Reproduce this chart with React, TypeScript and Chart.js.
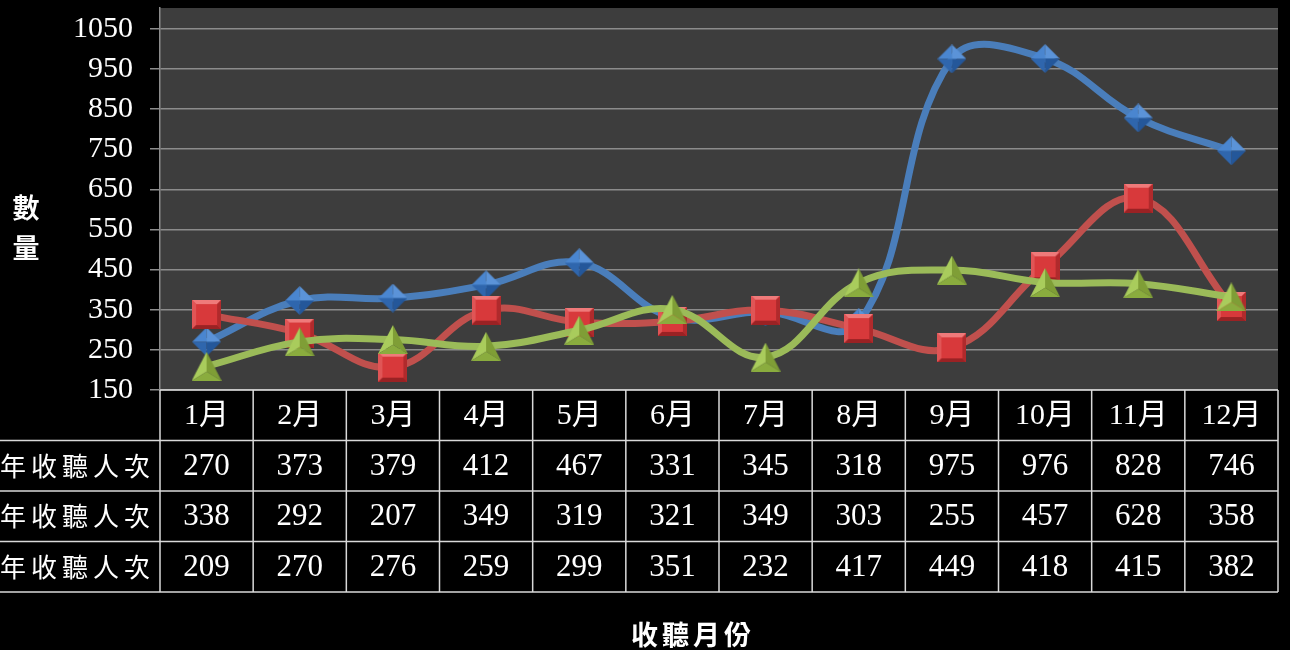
import React, { useEffect, useRef } from "react";
import { Chart, registerables } from "chart.js";
Chart.register(...registerables);

const months = ["1月", "2月", "3月", "4月", "5月", "6月", "7月", "8月", "9月", "10月", "11月", "12月"];
const rowLabels = ["年收聽人次", "年收聽人次", "年收聽人次"];
const seriesBlue = [270, 373, 379, 412, 467, 331, 345, 318, 975, 976, 828, 746];
const seriesRed = [338, 292, 207, 349, 319, 321, 349, 303, 255, 457, 628, 358];
const seriesGreen = [209, 270, 276, 259, 299, 351, 232, 417, 449, 418, 415, 382];
const yTickValues = [150, 250, 350, 450, 550, 650, 750, 850, 950, 1050];
const yTitle = "數量";
const xTitle = "收聽月份";

function poly(ctx: CanvasRenderingContext2D, pts: number[][], color: string) {
  ctx.beginPath();
  ctx.moveTo(pts[0][0], pts[0][1]);
  for (let i = 1; i < pts.length; i++) ctx.lineTo(pts[i][0], pts[i][1]);
  ctx.closePath();
  ctx.fillStyle = color;
  ctx.fill();
}

function makeSquare(s: number, c: string[]) {
  const cv = document.createElement("canvas");
  cv.width = s; cv.height = s;
  const ctx = cv.getContext("2d")!;
  const b = 4;
  poly(ctx, [[0, 0], [s, 0], [s, s], [0, s]], c[0]);
  poly(ctx, [[0, 0], [s, 0], [s - b, b], [b, b]], c[1]);
  poly(ctx, [[0, 0], [b, b], [b, s - b], [0, s]], c[2]);
  poly(ctx, [[s, 0], [s, s], [s - b, s - b], [s - b, b]], c[3]);
  poly(ctx, [[0, s], [s, s], [s - b, s - b], [b, s - b]], c[4]);
  return cv;
}

function makeDiamond(s: number, c: string[]) {
  const cv = document.createElement("canvas");
  cv.width = s; cv.height = s;
  const ctx = cv.getContext("2d")!;
  const h = s / 2;
  poly(ctx, [[h, 0], [0, h], [h, h]], c[1]);
  poly(ctx, [[h, 0], [s, h], [h, h]], c[0]);
  poly(ctx, [[s, h], [h, s], [h, h]], c[3]);
  poly(ctx, [[0, h], [h, s], [h, h]], c[2]);
  return cv;
}

function makeTriangle(w: number, hgt: number, c: string[]) {
  const cv = document.createElement("canvas");
  cv.width = w; cv.height = hgt;
  const ctx = cv.getContext("2d")!;
  const cx = w / 2, cy = hgt * 0.68;
  poly(ctx, [[cx, 0], [0, hgt], [cx, cy]], c[0]);
  poly(ctx, [[cx, 0], [w, hgt], [cx, cy]], c[1]);
  poly(ctx, [[0, hgt], [w, hgt], [cx, cy]], c[2]);
  return cv;
}

const tablePlugin = {
  id: "dataTable",
  beforeDraw(chart: any) {
    const { ctx, chartArea: a } = chart;
    ctx.save();
    ctx.fillStyle = "#3d3d3d";
    ctx.fillRect(a.left, a.top, a.right - a.left, a.bottom - a.top);
    ctx.restore();
  },
  afterDraw(chart: any) {
    const { ctx, chartArea: a } = chart;
    const xs = chart.scales.x;
    const colW = (a.right - a.left) / months.length;
    const rowH = 50.5;
    const top = a.bottom;
    ctx.save();
    ctx.strokeStyle = "#d9d9d9";
    ctx.lineWidth = 1.5;
    ctx.beginPath();
    ctx.moveTo(a.left, top);
    ctx.lineTo(a.right, top);
    for (let r = 1; r <= 4; r++) {
      ctx.moveTo(0, top + r * rowH);
      ctx.lineTo(a.right, top + r * rowH);
    }
    for (let i = 0; i <= months.length; i++) {
      const x = a.left + i * colW;
      ctx.moveTo(x, top);
      ctx.lineTo(x, top + 4 * rowH);
    }
    ctx.stroke();

    ctx.fillStyle = "#ffffff";
    ctx.textAlign = "center";
    ctx.textBaseline = "middle";
    ctx.font = "30px 'Liberation Serif', 'Noto Sans CJK TC'";
    months.forEach((m, i) => {
      ctx.fillText(m, xs.getPixelForValue(i), top + rowH / 2 + 1);
    });
    ctx.font = "31px 'Liberation Serif'";
    const rows = [seriesBlue, seriesRed, seriesGreen];
    rows.forEach((vals, r) => {
      vals.forEach((v, i) => {
        ctx.fillText(String(v), xs.getPixelForValue(i), top + (r + 1.5) * rowH + 1);
      });
    });

    ctx.font = "26px 'Noto Sans CJK TC'";
    rowLabels.forEach((lab, r) => {
      const chars = Array.from(lab);
      const n = chars.length;
      chars.forEach((ch, k) => {
        const cx = 137 - (n - 1 - k) * 31;
        ctx.fillText(ch, cx, top + (r + 1.5) * rowH);
      });
    });

    ctx.font = "bold 27px 'Noto Sans CJK TC'";
    Array.from(yTitle).forEach((ch, k) => {
      ctx.fillText(ch, 26, 208 + k * 40);
    });
    const xc = 691;
    const tc = Array.from(xTitle);
    tc.forEach((ch, k) => {
      ctx.fillText(ch, xc + (k - (tc.length - 1) / 2) * 31, 635);
    });
    ctx.restore();
  },
};

export default function App() {
  const ref = useRef<HTMLCanvasElement | null>(null);
  useEffect(() => {
    if (!ref.current) return;
    const blueM = makeDiamond(29, ["#5b93d8", "#4a86d0", "#2f66ad", "#24579a"]);
    const redM = makeSquare(29, ["#d8393b", "#ef7a7a", "#e05556", "#b02a2c", "#9a2224"]);
    const greenM = makeTriangle(30, 29, ["#a9cc5c", "#7f9e36", "#8aac3e"]);
    const chart = new Chart(ref.current, {
      type: "line",
      data: {
        labels: months,
        datasets: [
          {
            label: rowLabels[0],
            data: seriesBlue,
            borderColor: "#4a7ebb",
            borderWidth: 7,
            tension: 0.4,
            pointStyle: blueM as any,
            pointRadius: 14,
            order: 3,
          },
          {
            label: rowLabels[1],
            data: seriesRed,
            borderColor: "#c0504d",
            borderWidth: 7,
            tension: 0.4,
            pointStyle: redM as any,
            pointRadius: 14,
            order: 2,
          },
          {
            label: rowLabels[2],
            data: seriesGreen,
            borderColor: "#9bbb59",
            borderWidth: 7,
            tension: 0.4,
            pointStyle: greenM as any,
            pointRadius: 14,
            order: 1,
          },
        ],
      },
      options: {
        responsive: false,
        animation: false,
        devicePixelRatio: 1,
        layout: { autoPadding: false, padding: { left: 0, right: 12, top: 8, bottom: 260 } },
        plugins: { legend: { display: false }, tooltip: { enabled: false } },
        scales: {
          x: { display: false, offset: true },
          y: {
            min: 150,
            max: 1102,
            afterBuildTicks: (scale: any) => {
              scale.ticks = yTickValues.map((v) => ({ value: v }));
            },
            afterFit: (scale: any) => {
              scale.width = 160;
              scale.paddingTop = 0;
              scale.paddingBottom = 0;
              scale.paddingLeft = 0;
              scale.paddingRight = 0;
            },
            grid: { color: "#8c8c8c", lineWidth: 1.5, tickLength: 10 },
            border: { color: "#8c8c8c", width: 1.5 },
            ticks: {
              color: "#ffffff",
              padding: 17,
              font: { family: "'Liberation Serif'", size: 30 },
              callback: (v: any) => String(v),
            },
          },
        },
      },
      plugins: [tablePlugin],
    });
    return () => chart.destroy();
  }, []);
  return (
    <div style={{ position: "fixed", left: 0, top: 0, width: 1290, height: 650, background: "#000" }}>
      <canvas ref={ref} width={1290} height={650} style={{ display: "block" }} />
    </div>
  );
}
